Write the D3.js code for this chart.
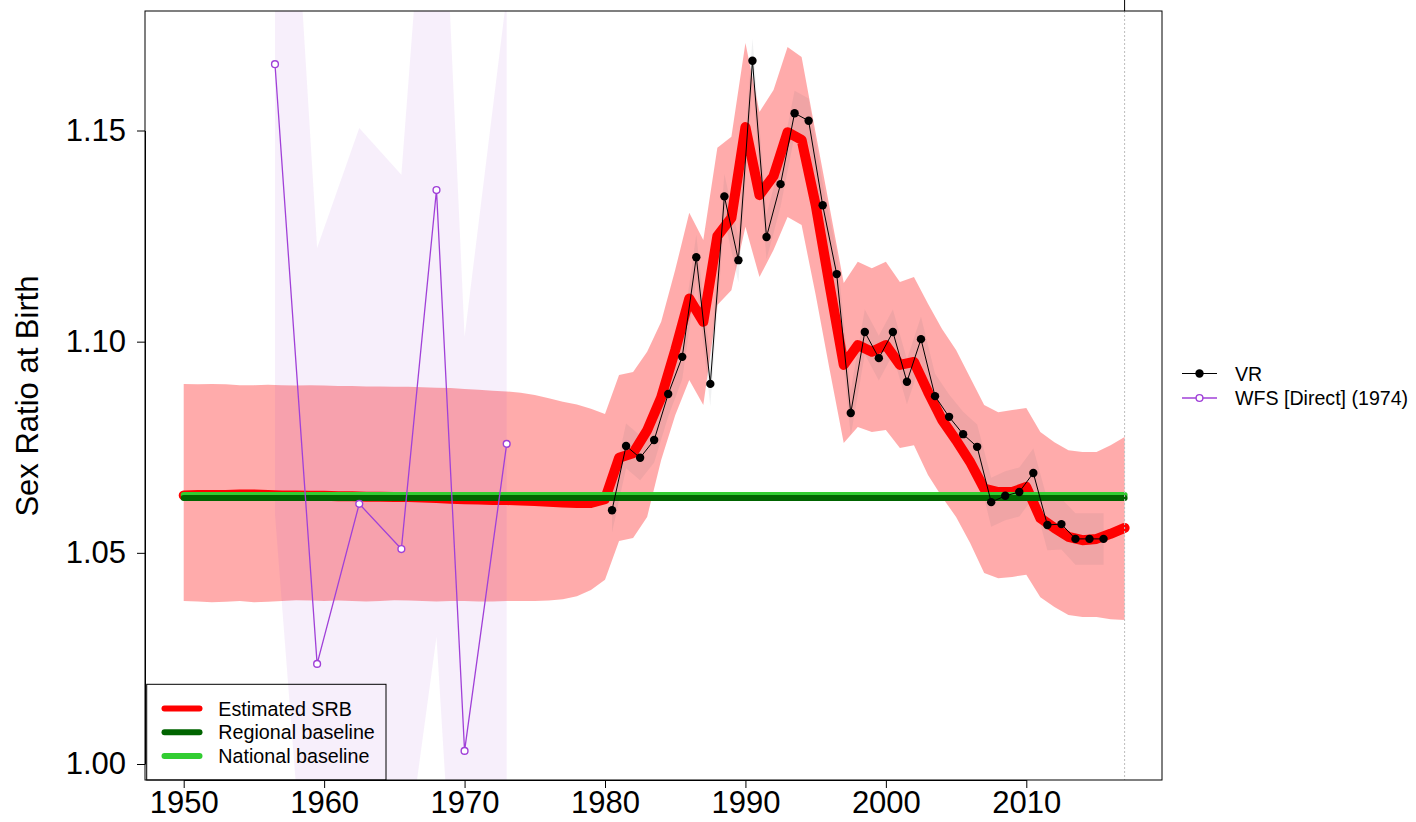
<!DOCTYPE html>
<html>
<head>
<meta charset="utf-8">
<script src="https://cdn.jsdelivr.net/npm/d3@7"></script>
<style>
  html, body { margin: 0; padding: 0; background: #fff; }
  svg { display: block; }
  text { font-family: "Liberation Sans", Arial, Helvetica, sans-serif; }
</style>
</head>
<body>
<svg id="chart" width="1416" height="822"></svg>
<script>
// ---- data ---------------------------------------------------------------
const estYears = d3.range(1950, 2018);

// estimated SRB (median) by year
const estMedian = [
  1.0636, 1.0637, 1.0637, 1.0637, 1.0638, 1.0638, 1.0637, 1.0636, 1.0636, 1.0635,
  1.0635, 1.0634, 1.0634, 1.0633, 1.0633, 1.0632, 1.0632, 1.0631, 1.0630, 1.0628,
  1.0627, 1.0626, 1.0625, 1.0625, 1.0624, 1.0623, 1.0621, 1.0619, 1.0618, 1.0618,
  1.0627, 1.0725, 1.0736, 1.0790, 1.0868, 1.0980, 1.1102, 1.1047, 1.1250, 1.1293,
  1.1508, 1.1347, 1.1392, 1.1496, 1.1478, 1.1324, 1.1132, 1.0945, 1.0992, 1.0976,
  1.0992, 1.0945, 1.0952, 1.0881, 1.0815, 1.0767, 1.0715, 1.0652, 1.0644, 1.0644,
  1.0656, 1.0582, 1.0559, 1.0538, 1.0530, 1.0533, 1.0545, 1.0559
];

// uncertainty interval of the estimate
const estUpper = [
  1.0900, 1.0899, 1.0900, 1.0899, 1.0897, 1.0897, 1.0898, 1.0897, 1.0896, 1.0897,
  1.0896, 1.0895, 1.0895, 1.0894, 1.0894, 1.0893, 1.0893, 1.0892, 1.0891, 1.0890,
  1.0888, 1.0886, 1.0884, 1.0882, 1.0879, 1.0874, 1.0866, 1.0858, 1.0851, 1.0841,
  1.0829, 1.0921, 1.0928, 1.0976, 1.1047, 1.1170, 1.1305, 1.1241, 1.1459, 1.1485,
  1.1707, 1.1544, 1.1596, 1.1698, 1.1674, 1.1494, 1.1317, 1.1139, 1.1189, 1.1174,
  1.1189, 1.1141, 1.1153, 1.1090, 1.1030, 1.0980, 1.0915, 1.0850, 1.0833, 1.0838,
  1.0843, 1.0786, 1.0762, 1.0743, 1.0739, 1.0739, 1.0755, 1.0774
];
const estLower = [
  1.0386, 1.0385, 1.0383, 1.0384, 1.0386, 1.0383, 1.0384, 1.0386, 1.0388, 1.0387,
  1.0386, 1.0387, 1.0386, 1.0385, 1.0386, 1.0388, 1.0387, 1.0386, 1.0385, 1.0386,
  1.0386, 1.0385, 1.0385, 1.0386, 1.0386, 1.0386, 1.0387, 1.0390, 1.0397, 1.0412,
  1.0436, 1.0528, 1.0535, 1.0585, 1.0720, 1.0826, 1.0909, 1.0850, 1.1087, 1.1122,
  1.1272, 1.1153, 1.1217, 1.1295, 1.1276, 1.1111, 1.0933, 1.0760, 1.0798, 1.0786,
  1.0791, 1.0748, 1.0755, 1.0684, 1.0632, 1.0585, 1.0523, 1.0452, 1.0440, 1.0443,
  1.0448, 1.0395, 1.0372, 1.0353, 1.0348, 1.0348, 1.0343, 1.0341
];

const regionalBaseline = 1.0630;
const nationalBaseline = 1.0637;

// vital registration observations
const vrYears = d3.range(1980.5, 2016, 1);
const vrValues = [
  1.0601, 1.0753, 1.0725, 1.0767, 1.0876, 1.0964, 1.1200, 1.0900, 1.1344, 1.1193,
  1.1665, 1.1248, 1.1373, 1.1541, 1.1523, 1.1323, 1.1160, 1.0831, 1.1023, 1.0961,
  1.1023, 1.0905, 1.1006, 1.0871, 1.0822, 1.0781, 1.0751, 1.0620, 1.0635, 1.0644,
  1.0689, 1.0566, 1.0568, 1.0533, 1.0533, 1.0533
];
const vrLower = [
  1.0548, 1.0700, 1.0672, 1.0714, 1.0823, 1.0911, 1.1147, 1.0847, 1.1291, 1.1140,
  1.1612, 1.1195, 1.1320, 1.1488, 1.1470, 1.1270, 1.1107, 1.0778, 1.0970, 1.0908,
  1.0970, 1.0852, 1.0953, 1.0818, 1.0769, 1.0728, 1.0698, 1.0562, 1.0577, 1.0586,
  1.0631, 1.0506, 1.0508, 1.0472, 1.0472, 1.0472
];
const vrUpper = [
  1.0654, 1.0806, 1.0778, 1.0820, 1.0929, 1.1017, 1.1253, 1.0953, 1.1397, 1.1246,
  1.1718, 1.1301, 1.1426, 1.1594, 1.1576, 1.1376, 1.1213, 1.0884, 1.1076, 1.1014,
  1.1076, 1.0958, 1.1059, 1.0924, 1.0875, 1.0834, 1.0804, 1.0678, 1.0693, 1.0702,
  1.0747, 1.0626, 1.0628, 1.0594, 1.0594, 1.0594
];

// WFS 1974 direct estimates
const wfsYears  = [1956.5, 1959.5, 1962.5, 1965.5, 1968.0, 1970.0, 1973.0];
const wfsValues = [1.1657, 1.0237, 1.0616, 1.0509, 1.1359, 1.0031, 1.0758];
const wfsLower  = [1.0592, 0.9300, 0.9550, 0.9690, 1.0301, 0.9220, 0.9650];
const wfsUpper  = [1.2850, 1.1222, 1.1506, 1.1395, 1.2490, 1.1011, 1.1820];

const xTicks = [1950, 1960, 1970, 1980, 1990, 2000, 2010];
const yTicks = [1.00, 1.05, 1.10, 1.15];
const yTickLabels = ["1.00", "1.05", "1.10", "1.15"];
const lastYear = 2017;

// ---- layout -------------------------------------------------------------
const svg = d3.select("#chart");
const box = { left: 145, right: 1162, top: 11, bottom: 780 };

const x = d3.scaleLinear().domain([1950, 2010]).range([183.7, 1026.3]);
const y = d3.scaleLinear().domain([1.00, 1.15]).range([764, 130.5]);

const COL = {
  estLine: "#ff0000",
  estBand: "rgba(255,0,0,0.33)",
  wfs: "#a040d8",
  wfsBand: "rgba(153,50,204,0.08)",
  vrBand: "rgba(90,100,110,0.09)",
  regional: "#006400",
  national: "#32cd32"
};

svg.append("defs").append("clipPath").attr("id", "plotClip")
  .append("rect")
  .attr("x", box.left).attr("y", box.top)
  .attr("width", box.right - box.left).attr("height", box.bottom - box.top);

const plot = svg.append("g").attr("clip-path", "url(#plotClip)");

const est = estYears.map((yr, i) => ({ yr, m: estMedian[i], lo: estLower[i], hi: estUpper[i] }));
const vr = vrYears.map((yr, i) => ({ yr, v: vrValues[i], lo: vrLower[i], hi: vrUpper[i] }));
const wfs = wfsYears.map((yr, i) => ({ yr, v: wfsValues[i], lo: wfsLower[i], hi: wfsUpper[i] }));

const band = d3.area().x(d => x(d.yr)).y0(d => y(d.lo)).y1(d => y(d.hi));

// uncertainty bands
plot.append("path").datum(est).attr("d", band).attr("fill", COL.estBand);
plot.append("path").datum(wfs).attr("d", band).attr("fill", COL.wfsBand);
plot.append("path").datum(vr).attr("d", band).attr("fill", COL.vrBand);

// estimated SRB
plot.append("path").datum(est)
  .attr("d", d3.line().x(d => x(d.yr)).y(d => y(d.m)))
  .attr("fill", "none").attr("stroke", COL.estLine).attr("stroke-width", 10)
  .attr("stroke-linejoin", "round").attr("stroke-linecap", "round");

// baselines
[[nationalBaseline, COL.national], [regionalBaseline, COL.regional]].forEach(([v, c]) => {
  plot.append("line")
    .attr("x1", x(1950)).attr("x2", x(lastYear))
    .attr("y1", y(v)).attr("y2", y(v))
    .attr("stroke", c).attr("stroke-width", 6).attr("stroke-linecap", "round");
});

// VR series
plot.append("path").datum(vr)
  .attr("d", d3.line().x(d => x(d.yr)).y(d => y(d.v)))
  .attr("fill", "none").attr("stroke", "#000").attr("stroke-width", 1);
plot.selectAll("circle.vr").data(vr).enter().append("circle")
  .attr("class", "vr").attr("cx", d => x(d.yr)).attr("cy", d => y(d.v))
  .attr("r", 4.2).attr("fill", "#000");

// WFS series
plot.append("path").datum(wfs)
  .attr("d", d3.line().x(d => x(d.yr)).y(d => y(d.v)))
  .attr("fill", "none").attr("stroke", COL.wfs).attr("stroke-width", 1.3);
plot.selectAll("circle.wfs").data(wfs).enter().append("circle")
  .attr("class", "wfs").attr("cx", d => x(d.yr)).attr("cy", d => y(d.v))
  .attr("r", 3.4).attr("fill", "#fff").attr("stroke", COL.wfs).attr("stroke-width", 1.4);

// marker for the final year
svg.append("line")
  .attr("x1", x(lastYear)).attr("x2", x(lastYear))
  .attr("y1", box.top).attr("y2", box.bottom)
  .attr("stroke", "#bdbdbd").attr("stroke-width", 1).attr("stroke-dasharray", "2,2");
svg.append("line")
  .attr("x1", x(lastYear)).attr("x2", x(lastYear))
  .attr("y1", 0).attr("y2", box.top)
  .attr("stroke", "#000").attr("stroke-width", 1);

// plot frame
svg.append("rect")
  .attr("x", box.left).attr("y", box.top)
  .attr("width", box.right - box.left).attr("height", box.bottom - box.top)
  .attr("fill", "none").attr("stroke", "#000").attr("stroke-width", 1);

// axes
const fontSize = 31;
const xAxis = svg.append("g").attr("transform", `translate(0,${box.bottom})`)
  .call(d3.axisBottom(x).tickValues(xTicks).tickFormat(d3.format("d"))
    .tickSize(8).tickSizeOuter(0).tickPadding(3));
const yAxis = svg.append("g").attr("transform", `translate(${box.left},0)`)
  .call(d3.axisLeft(y).tickValues(yTicks).tickFormat((d, i) => yTickLabels[i])
    .tickSize(8).tickSizeOuter(0).tickPadding(11));
[xAxis, yAxis].forEach(g => {
  g.attr("font-family", null).attr("font-size", null);
  g.selectAll("text").attr("font-size", fontSize).attr("fill", "#000")
    .style("font-family", '"Liberation Sans", Arial, sans-serif');
  g.selectAll("line, path").attr("stroke", "#000");
});

svg.append("text")
  .attr("transform", "translate(38,396) rotate(-90)")
  .attr("text-anchor", "middle").attr("font-size", fontSize)
  .text("Sex Ratio at Birth");

// legend: model lines
const leg1 = svg.append("g");
leg1.append("rect")
  .attr("x", 146.7).attr("y", 684.3).attr("width", 239.3).attr("height", 95.7)
  .attr("fill", "none").attr("stroke", "#000").attr("stroke-width", 1);
const leg1Items = [
  ["Estimated SRB", COL.estLine],
  ["Regional baseline", COL.regional],
  ["National baseline", COL.national]
];
leg1Items.forEach(([label, c], i) => {
  const yy = 708.5 + i * 23.8;
  leg1.append("line").attr("x1", 164.5).attr("x2", 199.5).attr("y1", yy).attr("y2", yy)
    .attr("stroke", c).attr("stroke-width", 6).attr("stroke-linecap", "round");
  leg1.append("text").attr("x", 218.3).attr("y", yy + 7).attr("font-size", 19.7)
    .attr("fill", "#000").text(label);
});

// legend: data series
const leg2 = svg.append("g");
leg2.append("line").attr("x1", 1182).attr("x2", 1217).attr("y1", 373.5).attr("y2", 373.5)
  .attr("stroke", "#000").attr("stroke-width", 1);
leg2.append("circle").attr("cx", 1199.5).attr("cy", 373.5).attr("r", 4.2).attr("fill", "#000");
leg2.append("text").attr("x", 1235).attr("y", 380.5).attr("font-size", 19.6).text("VR");
leg2.append("line").attr("x1", 1182).attr("x2", 1217).attr("y1", 398).attr("y2", 398)
  .attr("stroke", COL.wfs).attr("stroke-width", 1.6);
leg2.append("circle").attr("cx", 1199.5).attr("cy", 398).attr("r", 3.4)
  .attr("fill", "#fff").attr("stroke", COL.wfs).attr("stroke-width", 1.4);
leg2.append("text").attr("x", 1235).attr("y", 405).attr("font-size", 19.6).text("WFS [Direct] (1974)");
</script>
</body>
</html>
